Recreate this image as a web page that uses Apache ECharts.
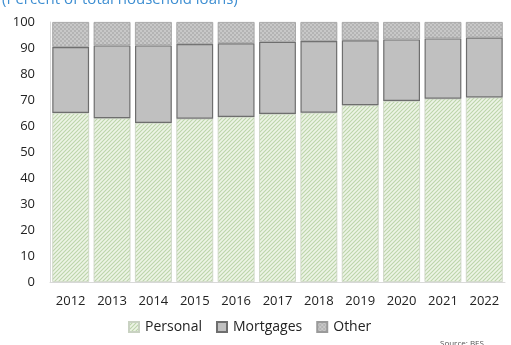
<!DOCTYPE html>
<html>
<head>
<meta charset="utf-8">
<script src="https://cdn.jsdelivr.net/npm/echarts@6/dist/echarts.min.js"></script>
<style>
  html, body { margin: 0; padding: 0; background: #fff; }
  #chart { width: 511px; height: 345px; }
</style>
</head>
<body>
<div id="chart"></div>
<script>
// Share of household loans by type, percent
const years = ['2012', '2013', '2014', '2015', '2016', '2017', '2018', '2019', '2020', '2021', '2022'];
const personal = [65.0, 63.0, 61.2, 62.8, 63.5, 64.6, 65.1, 68.0, 69.6, 70.5, 71.0];
const mortgages = [25.4, 28.0, 29.8, 28.7, 28.3, 27.8, 27.6, 25.0, 23.7, 23.2, 23.0];
const other = [9.6, 9.0, 9.0, 8.5, 8.2, 7.6, 7.3, 7.0, 6.7, 6.3, 6.0];
const yTicks = [0, 10, 20, 30, 40, 50, 60, 70, 80, 90, 100];

const FONT = '"Open Sans", "Noto Sans", sans-serif';

// Fine diagonal green hatch for personal loans
function hatchPattern() {
  const c = document.createElement('canvas');
  c.width = 4; c.height = 4;
  const g = c.getContext('2d');
  g.fillStyle = '#edf4e6';
  g.fillRect(0, 0, 4, 4);
  g.strokeStyle = '#bcd4aa';
  g.lineWidth = 1.1;
  g.beginPath();
  g.moveTo(-1, 5); g.lineTo(5, -1);
  g.moveTo(-3, 3); g.lineTo(3, -3);
  g.moveTo(1, 7); g.lineTo(7, 1);
  g.stroke();
  return { image: c, repeat: 'repeat' };
}

// Speckled grey texture for other loans
function speckPattern() {
  const c = document.createElement('canvas');
  c.width = 4; c.height = 4;
  const g = c.getContext('2d');
  g.fillStyle = '#c8c8c8';
  g.fillRect(0, 0, 4, 4);
  g.fillStyle = '#b4b4b4';
  g.fillRect(0, 0, 2, 2);
  g.fillRect(2, 2, 2, 2);
  return { image: c, repeat: 'repeat' };
}

const chart = echarts.init(document.getElementById('chart'), null, { renderer: 'canvas' });

chart.setOption({
  animation: false,
  backgroundColor: '#ffffff',
  title: {
    text: '(Percent of total household loans)',
    left: -3,
    top: -13,
    textStyle: { fontFamily: FONT, fontSize: 15, fontWeight: 'normal', color: '#3f8fd2' }
  },
  graphic: [{
    type: 'text',
    left: 440,
    top: 340,
    style: { text: 'Source: BES', fontFamily: FONT, fontSize: 8, fill: '#555' }
  }],
  legend: {
    left: 123,
    top: 315,
    icon: 'rect',
    itemWidth: 10,
    itemHeight: 10,
    itemGap: 14,
    textStyle: { fontFamily: FONT, fontSize: 14, color: '#222', padding: [0, 0, 0, 1] },
    data: ['Personal', 'Mortgages', 'Other']
  },
  grid: { left: 50, right: 6, top: 22, bottom: 63 },
  xAxis: {
    type: 'category',
    data: years,
    axisLine: { show: true, lineStyle: { color: '#d9d9d9' } },
    axisTick: { show: false },
    axisLabel: { fontFamily: FONT, fontSize: 13, color: '#222', margin: 13 }
  },
  yAxis: {
    type: 'value',
    min: yTicks[0],
    max: yTicks[yTicks.length - 1],
    interval: 10,
    axisLine: { show: true, lineStyle: { color: '#d9d9d9' } },
    axisTick: { show: false },
    splitLine: { show: false },
    axisLabel: { fontFamily: FONT, fontSize: 13, color: '#222', margin: 15 }
  },
  series: [
    {
      name: 'Personal',
      type: 'bar',
      stack: 'loans',
      data: personal,
      barCategoryGap: '11%',
      itemStyle: { color: hatchPattern(), borderColor: '#c9d2c2', borderWidth: 0.8 }
    },
    {
      name: 'Mortgages',
      type: 'bar',
      stack: 'loans',
      data: mortgages,
      itemStyle: { color: '#c0c0c0', borderColor: '#6e6e6e', borderWidth: 1.2 }
    },
    {
      name: 'Other',
      type: 'bar',
      stack: 'loans',
      data: other,
      itemStyle: { color: speckPattern(), borderColor: '#9a9a9a', borderWidth: 0.8 }
    }
  ]
});
</script>
</body>
</html>
